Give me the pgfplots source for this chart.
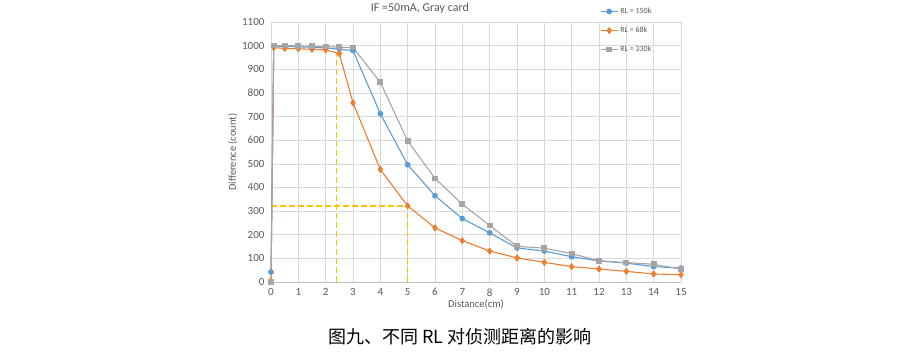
\documentclass[border=0pt]{standalone}
\usepackage{pgfplots}
\pgfplotsset{compat=1.18}
\usepackage{fontspec}
\setmainfont{Carlito}
\newfontfamily\cjk{Noto Sans CJK SC}
\definecolor{sblue}{HTML}{5B9BD5}
\definecolor{sorange}{HTML}{ED7D31}
\definecolor{sgray}{HTML}{A5A5A5}
\definecolor{gold}{HTML}{FFC000}
\definecolor{txt}{HTML}{595959}
\definecolor{gridc}{HTML}{D9D9D9}
\begin{document}
\begin{tikzpicture}
\path[use as bounding box] (0pt,0pt) rectangle (900pt,358pt);
\begin{axis}[
  at={(271pt,76pt)}, anchor=origin,
  scale only axis, width=410pt, height=260pt,
  xmin=0, xmax=15, ymin=0, ymax=1100,
  xtick={0,1,...,15}, ytick={0,100,...,1100},
  grid=major, grid style={draw=gridc, line width=0.6pt},
  axis line style={draw=none},
  major tick length=0pt,
  tick label style={font=\fontsize{11}{12}\selectfont, text=txt},
  /pgf/number format/assume math mode=true,
  /pgf/number format/1000 sep={},
  xticklabel style={yshift=-3pt},
  yticklabel style={xshift=-3pt},
  xlabel={Distance(cm)}, ylabel={Difference (count)},
  label style={font=\fontsize{10.5}{12}\selectfont, text=txt},
  xlabel style={yshift=3pt},
  ylabel style={yshift=-2pt},
  title={IF =50mA, Gray card},
  title style={at={(0.363,1)}, font=\fontsize{12}{14}\selectfont, text=txt, yshift=-1pt},
  legend style={at={(0.795,1.07)}, anchor=north west, draw=none, fill=none,
    font=\fontsize{8}{9}\selectfont, text=txt, row sep=8pt},
  legend cell align=left,
  every axis plot/.append style={line width=1.1pt},
  clip=false,
]
\addplot[gold, dash pattern=on 6pt off 3pt, line width=1.3pt, forget plot] coordinates {(2.4,0) (2.4,968)};
\addplot[gold, dash pattern=on 6pt off 3pt, line width=1.3pt, forget plot] coordinates {(0,322) (5,322) (5,0)};
\addplot[gridc!70!gray, line width=0.8pt, forget plot] coordinates {(0,0) (15,0)};
\addplot[sblue, mark=*, mark size=2.3pt, mark options={fill=sblue}] coordinates {
(0,42) (0.1,998) (0.5,997) (1,995) (1.5,993) (2,990) (2.5,985) (3,979)
(4,712) (5,496) (6,365) (7,268) (8,208) (9,144) (10,131) (11,107)
(12,89) (13,80) (14,65) (15,59)};
\addlegendentry{RL = 150k}
\addplot[sorange, mark=diamond*, mark size=2.8pt, mark options={fill=sorange}] coordinates {
(0,4) (0.1,992) (0.5,988) (1,987) (1.5,984) (2,982) (2.5,966) (3,758)
(4,476) (5,322) (6,229) (7,175) (8,131) (9,102) (10,83) (11,65)
(12,55) (13,45) (14,34) (15,31)};
\addlegendentry{RL = 68k}
\addplot[sgray, mark=square*, mark size=2.3pt, mark options={fill=sgray}] coordinates {
(0,0) (0.1,1000) (0.5,1000) (1,999) (1.5,997) (2,996) (2.5,993) (3,992)
(4,845) (5,597) (6,438) (7,329) (8,239) (9,151) (10,143) (11,120)
(12,90) (13,82) (14,75) (15,54)};
\addlegendentry{RL = 330k}
\end{axis}
\node[font=\cjk\fontsize{18}{20}\selectfont, text=black] at (460pt,21pt) {图九、不同 RL 对侦测距离的影响};
\end{tikzpicture}
\end{document}
